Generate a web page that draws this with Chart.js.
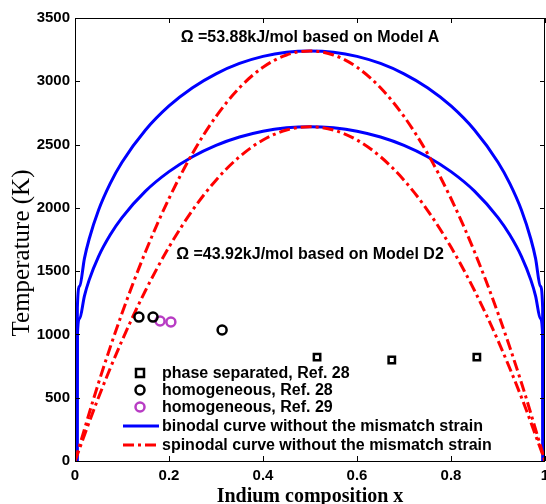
<!DOCTYPE html>
<html>
<head>
<meta charset="utf-8">
<script src="https://cdn.jsdelivr.net/npm/chart.js@4.4.1/dist/chart.umd.min.js"></script>
<style>
  html, body { margin: 0; padding: 0; background: #fff; }
  #wrap { width: 546px; height: 504px; }
</style>
</head>
<body>
<div id="wrap"><canvas id="phaseChart"></canvas></div>
<script>
// composition grid for the binodal curves (they drop straight to 0 near the edges)
var binodalX = [0.0045, 0.005, 0.01, 0.02, 0.03, 0.05, 0.075, 0.1, 0.15, 0.2, 0.25, 0.3, 0.35, 0.4, 0.45, 0.5,
    0.55, 0.6, 0.65, 0.7, 0.75, 0.8, 0.85, 0.9, 0.925, 0.95, 0.97, 0.98, 0.99, 0.995, 0.9955];
var binodalA = [0, 1212, 1382, 1599, 1752, 1981, 2193, 2360, 2615, 2805, 2949, 3059, 3141, 3197, 3230, 3240,
    3230, 3197, 3141, 3059, 2949, 2805, 2615, 2360, 2193, 1981, 1752, 1599, 1382, 1212, 0];
var binodalD2 = [0, 988, 1127, 1303, 1429, 1615, 1787, 1923, 2132, 2286, 2404, 2494, 2560, 2606, 2632, 2641,
    2632, 2606, 2560, 2494, 2404, 2286, 2132, 1923, 1787, 1615, 1429, 1303, 1127, 988, 0];

// composition grid for the spinodal curves
var spinodalX = [0, 0.05, 0.1, 0.15, 0.2, 0.25, 0.3, 0.35, 0.4, 0.45, 0.5, 0.55, 0.6, 0.65, 0.7, 0.75, 0.8, 0.85, 0.9, 0.95, 1];
var spinodalA = [0, 616, 1167, 1653, 2074, 2430, 2722, 2949, 3111, 3208, 3240, 3208, 3111, 2949, 2722, 2430, 2074, 1653, 1167, 616, 0];
var spinodalD2 = [0, 502, 951, 1347, 1690, 1981, 2219, 2404, 2536, 2615, 2641, 2615, 2536, 2404, 2219, 1981, 1690, 1347, 951, 502, 0];

// experimental points
var phaseSepX = [0.515, 0.674, 0.855];
var phaseSepT = [821, 798, 821];
var homo28X = [0.136, 0.166, 0.313];
var homo28T = [1137, 1137, 1035];
var homo29X = [0.181, 0.204];
var homo29T = [1106, 1098];

var xTicks = [0, 0.2, 0.4, 0.6, 0.8, 1];
var yTicks = [0, 500, 1000, 1500, 2000, 2500, 3000, 3500];

var annotations = [
    { text: 'Ω =53.88kJ/mol based on Model A', x: 0.5, y: 3342 },
    { text: 'Ω =43.92kJ/mol based on Model D2', x: 0.5, y: 1628 }
];
var xTitle = 'Indium composition x';
var yTitle = 'Temperature (K)';

function pairs(xs, ys) {
    return xs.map(function (x, i) { return { x: x, y: ys[i] }; });
}

var BLUE = '#0000ff';
var RED = '#ff0000';
var PURPLE = '#b83cc4';
var DASHDOT = [11, 4, 3, 4];
var SANS = '"Liberation Sans", Arial, sans-serif';
var SERIF = '"Liberation Serif", "Times New Roman", serif';
var legendY = [373, 390, 407, 426, 445];

// inner ticks, frame, axis titles, annotations and legend
var decorPlugin = {
    id: 'decor',
    afterDatasetsDraw: function (chart) {
        var ctx = chart.ctx;
        var a = chart.chartArea;
        var xs = chart.scales.x, ys = chart.scales.y;
        ctx.save();
        ctx.strokeStyle = '#000';
        ctx.lineWidth = 1;
        ctx.beginPath();
        xTicks.forEach(function (v) {
            var px = Math.round(xs.getPixelForValue(v)) + 0.5;
            ctx.moveTo(px, a.bottom); ctx.lineTo(px, a.bottom - 5);
            ctx.moveTo(px, a.top); ctx.lineTo(px, a.top + 5);
        });
        yTicks.forEach(function (v) {
            var py = Math.round(ys.getPixelForValue(v)) + 0.5;
            ctx.moveTo(a.left, py); ctx.lineTo(a.left + 5, py);
            ctx.moveTo(a.right, py); ctx.lineTo(a.right - 5, py);
        });
        ctx.stroke();
        ctx.strokeRect(Math.round(a.left) + 0.5, Math.round(a.top) + 0.5,
            Math.round(a.right - a.left) - 1, Math.round(a.bottom - a.top));

        ctx.fillStyle = '#000';

        // axis titles
        ctx.textAlign = 'center';
        ctx.textBaseline = 'alphabetic';
        ctx.font = 'bold 20px ' + SERIF;
        ctx.fillText(xTitle, (a.left + a.right) / 2, 502);
        ctx.save();
        ctx.translate(29, 253);
        ctx.rotate(-Math.PI / 2);
        ctx.font = '25px ' + SERIF;
        ctx.fillText(yTitle, 0, 0);
        ctx.restore();

        // annotations
        ctx.font = 'bold 16px ' + SANS;
        ctx.textBaseline = 'middle';
        annotations.forEach(function (n) {
            ctx.fillText(n.text, xs.getPixelForValue(n.x), ys.getPixelForValue(n.y));
        });

        // legend
        var lx = 140, tx = 162;
        ctx.textAlign = 'left';
        chart.data.datasets.forEach(function (ds) {
            if (ds.legendRow === undefined) return;
            var y = legendY[ds.legendRow];
            ctx.save();
            ctx.strokeStyle = ds.borderColor;
            ctx.lineWidth = ds.borderWidth;
            if (ds.showLine) {
                ctx.setLineDash(ds.borderDash || []);
                ctx.beginPath();
                ctx.moveTo(123, y); ctx.lineTo(159, y);
                ctx.stroke();
            } else if (ds.pointStyle === 'rect') {
                ctx.strokeRect(lx - 4, y - 4, 8, 8);
            } else {
                ctx.beginPath();
                ctx.arc(lx, y, ds.pointRadius, 0, Math.PI * 2);
                ctx.stroke();
            }
            ctx.restore();
            ctx.fillText(ds.label, tx, y + 1);
        });
        ctx.restore();
    }
};

var ctx = document.getElementById('phaseChart').getContext('2d');
new Chart(ctx, {
    type: 'scatter',
    data: {
        datasets: [
            { label: 'phase separated, Ref. 28', data: pairs(phaseSepX, phaseSepT), pointStyle: 'rect',
              pointRadius: 4.5, borderColor: '#000', backgroundColor: 'rgba(0,0,0,0)', borderWidth: 2.5, legendRow: 0, order: 0 },
            { label: 'homogeneous, Ref. 28', data: pairs(homo28X, homo28T), pointStyle: 'circle',
              pointRadius: 4.5, borderColor: '#000', backgroundColor: 'rgba(0,0,0,0)', borderWidth: 2.5, legendRow: 1, order: 0 },
            { label: 'homogeneous, Ref. 29', data: pairs(homo29X, homo29T), pointStyle: 'circle',
              pointRadius: 4.5, borderColor: PURPLE, backgroundColor: 'rgba(0,0,0,0)', borderWidth: 2.5, legendRow: 2, order: 0 },
            { label: 'spinodal curve without the mismatch strain', data: pairs(spinodalX, spinodalA), showLine: true,
              borderColor: RED, borderWidth: 3, borderDash: DASHDOT, pointRadius: 0, cubicInterpolationMode: 'monotone', legendRow: 4, order: 1 },
            { data: pairs(spinodalX, spinodalD2), showLine: true,
              borderColor: RED, borderWidth: 3, borderDash: DASHDOT, pointRadius: 0, cubicInterpolationMode: 'monotone', order: 1 },
            { label: 'binodal curve without the mismatch strain', data: pairs(binodalX, binodalA), showLine: true,
              borderColor: BLUE, borderWidth: 3, pointRadius: 0, cubicInterpolationMode: 'monotone', legendRow: 3, order: 2 },
            { data: pairs(binodalX, binodalD2), showLine: true,
              borderColor: BLUE, borderWidth: 3, pointRadius: 0, cubicInterpolationMode: 'monotone', order: 2 }
        ]
    },
    options: {
        responsive: true,
        maintainAspectRatio: false,
        animation: false,
        layout: { autoPadding: false, padding: { top: 18, right: 1, left: 0, bottom: 0 } },
        plugins: {
            legend: { display: false },
            tooltip: { enabled: false }
        },
        scales: {
            x: {
                type: 'linear', min: 0, max: 1,
                afterBuildTicks: function (s) { s.ticks = xTicks.map(function (v) { return { value: v }; }); },
                afterFit: function (s) { s.height = 43; s.paddingLeft = 0; s.paddingRight = 0; },
                grid: { display: false, drawTicks: false, tickLength: 0 },
                border: { display: false },
                ticks: { color: '#000', font: { family: SANS, size: 15, weight: 'bold' },
                         padding: 6, maxRotation: 0, callback: function (v) { return String(v); } }
            },
            y: {
                type: 'linear', min: 0, max: 3500,
                afterBuildTicks: function (s) { s.ticks = yTicks.map(function (v) { return { value: v }; }); },
                afterFit: function (s) { s.width = 75; s.paddingTop = 0; s.paddingBottom = 0; },
                grid: { display: false, drawTicks: false, tickLength: 0 },
                border: { display: false },
                ticks: { color: '#000', font: { family: SANS, size: 15, weight: 'bold' },
                         padding: 5, callback: function (v) { return String(v); } }
            }
        }
    },
    plugins: [decorPlugin]
});
</script>
</body>
</html>
